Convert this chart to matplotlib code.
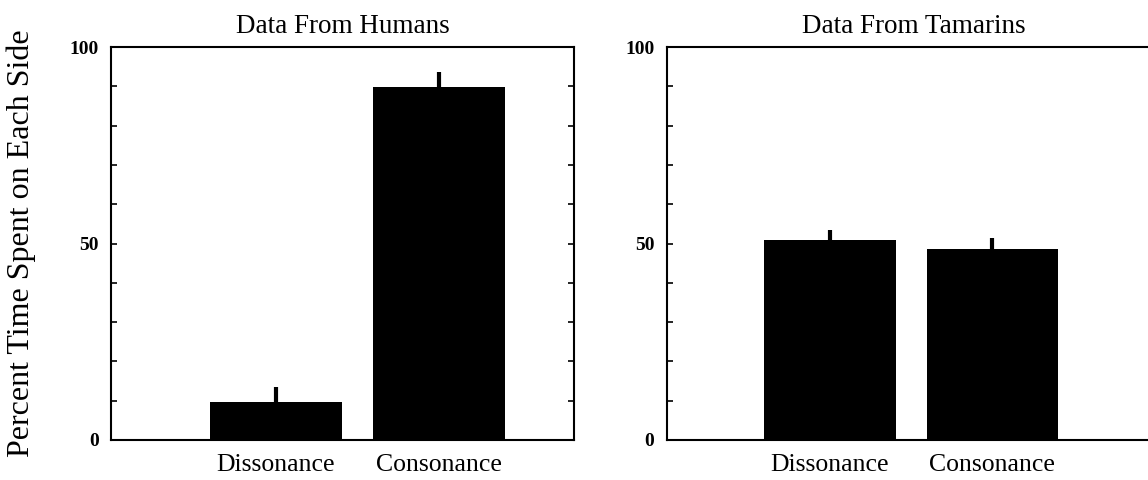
import matplotlib
matplotlib.use("Agg")
import matplotlib.pyplot as plt
import numpy as np

plt.rcParams['font.family'] = ['Liberation Serif', 'DejaVu Serif']

categories = ["Dissonance", "Consonance"]
humans_values = [9.7, 89.8]
humans_err = [3.8, 3.8]
tamarins_values = [50.9, 48.6]
tamarins_err = [2.5, 2.8]
titles = ["Data From Humans", "Data From Tamarins"]
ytick_labels = {0: "0", 50: "50", 100: "100"}

W, H = 1148, 480
fig = plt.figure(figsize=(W / 100, H / 100), dpi=100)

def px_axes(x0, x1, y0, y1):
    return fig.add_axes([x0 / W, 1 - y1 / H, (x1 - x0) / W, (y1 - y0) / H])

ax1 = px_axes(111, 574, 47, 440)
ax2 = px_axes(667, 1160, 47, 440)

panels = [(ax1, humans_values, humans_err, (-1.01, 1.83)),
          (ax2, tamarins_values, tamarins_err, (-1.0, 2.03))]

for i, (ax, vals, errs, xl) in enumerate(panels):
    x = np.arange(len(categories))
    ax.bar(x, vals, width=0.81, color='black', zorder=2)
    ax.errorbar(x, vals, yerr=[np.zeros(len(errs)), errs], fmt='none',
                ecolor='black', elinewidth=3, capsize=0, zorder=3)
    ax.set_xlim(*xl)
    ax.set_ylim(0, 100)
    ax.set_xticks(x)
    ax.set_xticklabels(categories, fontsize=18.5)
    ax.tick_params(axis='x', length=0, pad=10)
    yt = np.arange(0, 101, 10)
    ax.set_yticks(yt)
    ax.set_yticklabels([ytick_labels.get(int(v), "") for v in yt],
                       fontsize=14, fontweight='bold')
    ax.tick_params(axis='y', direction='in', length=4, width=1.2, left=True, right=True, pad=9)
    for s in ax.spines.values():
        s.set_linewidth(1.5)
    ax.set_title(titles[i], fontsize=19.5, pad=10)

ax1.set_ylabel("Percent Time Spent on Each Side", fontsize=23)
ax1.yaxis.set_label_coords((36 - 111) / 463, 0.5)

fig.savefig("out.png", dpi=100)
